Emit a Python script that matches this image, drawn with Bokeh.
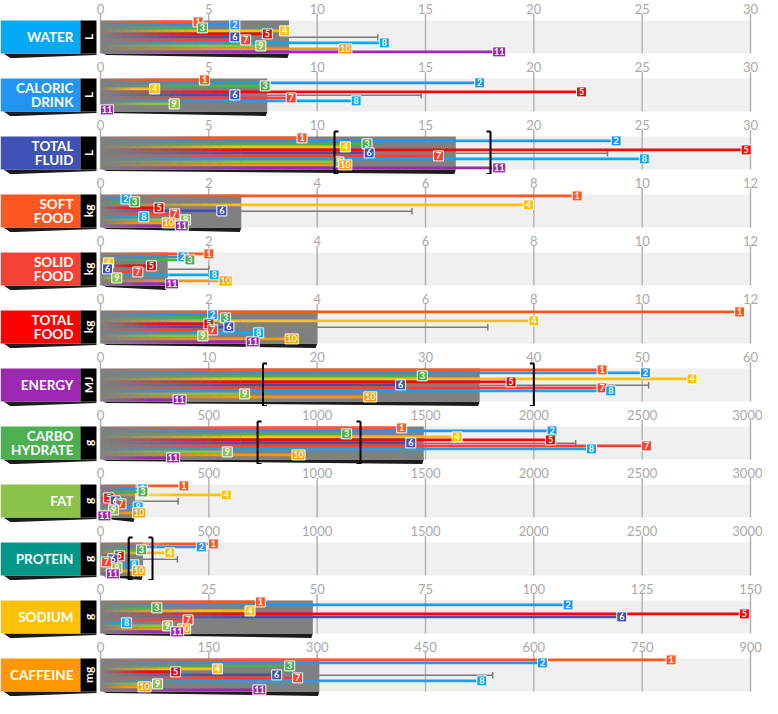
import math
from bokeh.plotting import figure
from bokeh.layouts import column
from bokeh.models import Range1d, FixedTicker, ColumnDataSource
from bokeh.core.properties import value
from bokeh.embed import file_html
from bokeh.resources import INLINE

# ---------------- data ----------------
PANEL_LABELS = [["WATER"], ["CALORIC", "DRINK"], ["TOTAL", "FLUID"], ["SOFT", "FOOD"],
                ["SOLID", "FOOD"], ["TOTAL", "FOOD"], ["ENERGY"], ["CARBO", "HYDRATE"],
                ["FAT"], ["PROTEIN"], ["SODIUM"], ["CAFFEINE"]]
UNITS = ["L", "L", "L", "kg", "kg", "kg", "MJ", "g", "g", "g", "g", "mg"]
LABEL_COLORS = ["#03A9F4", "#2196F3", "#3F51B5", "#FF5722", "#F44336", "#FF0000",
                "#9C27B0", "#4CAF50", "#8BC34A", "#009688", "#FFC107", "#FF9800"]
SERIES_NAMES = ["1", "2", "3", "4", "5", "6", "7", "8", "9", "10", "11"]
SERIES_COLORS = ["#FF5722", "#2196F3", "#4CAF50", "#FFC107", "#FF0000", "#3F51B5",
                 "#F44336", "#03A9F4", "#8BC34A", "#FF9800", "#9C27B0"]

TICKS_FLUID = [0, 5, 10, 15, 20, 25, 30]
TICKS_FOOD = [0, 2, 4, 6, 8, 10, 12]
TICKS_ENERGY = [0, 10, 20, 30, 40, 50, 60]
TICKS_MACRO = [0, 500, 1000, 1500, 2000, 2500, 3000]
TICKS_SODIUM = [0, 25, 50, 75, 100, 125, 150]
TICKS_CAFFEINE = [0, 150, 300, 450, 600, 750, 900]

WATER = [4.5, 6.2, 4.7, 8.5, 7.7, 6.2, 6.7, 13.1, 7.4, 11.3, 18.4]
CALORIC_DRINK = [4.8, 17.5, 7.6, 2.5, 22.2, 6.2, 8.8, 11.8, 3.4, None, 0.3]
TOTAL_FLUID = [9.3, 23.8, 12.3, 11.3, 29.8, 12.4, 15.6, 25.1, 11.0, 11.3, 18.4]
SOFT_FOOD = [8.8, 0.47, 0.63, 7.9, 1.08, 2.24, 1.37, 0.80, 1.57, 1.26, 1.50]
SOLID_FOOD = [2.0, 1.52, 1.65, 0.15, 0.94, 0.13, 0.69, 2.10, 0.30, 2.31, 1.32]
TOTAL_FOOD = [11.8, 2.07, 2.31, 8.0, 2.0, 2.37, 2.07, 2.92, 1.89, 3.53, 2.81]
ENERGY = [46.3, 50.3, 29.7, 54.6, 37.9, 27.7, 46.3, 47.1, 13.3, 24.9, 7.3]
CARBOHYDRATE = [1390, 2084, 1136, 1646, 2077, 1432, 2520, 2266, 585, 914, 335]
FAT = [385, 193, 196, 581, 38, 68, 94, 174, 60, 178, 18]
PROTEIN = [521, 465, 189, 320, 87, 57, 27, 154, 76, 177, 57]
SODIUM = [36.9, 107.9, 13.0, 34.5, 148.6, 120.3, 20.2, 6.0, 15.5, 19.3, 17.7]
CAFFEINE = [790, 612, 262, 162, 104, 244, 273, 528, 79, 61, 220]

AVERAGE = [8.7, 7.7, 16.4, 2.6, 1.24, 4.0, 35.0, 1492, 159, 196, 49, 303]
SD_END = [12.8, 14.8, 23.4, 5.75, 2.0, 7.15, 50.6, 2193, 358, 355, None, 543]
RANGE_LO = [None, None, 10.8, None, None, None, 15, 725, None, 130, None, None]
RANGE_HI = [None, None, 18.0, None, None, None, 40, 1200, None, 240, None, None]

PANEL_VALUES = [WATER, CALORIC_DRINK, TOTAL_FLUID, SOFT_FOOD, SOLID_FOOD, TOTAL_FOOD,
                ENERGY, CARBOHYDRATE, FAT, PROTEIN, SODIUM, CAFFEINE]
PANEL_TICKS = [TICKS_FLUID, TICKS_FLUID, TICKS_FLUID, TICKS_FOOD, TICKS_FOOD, TICKS_FOOD,
               TICKS_ENERGY, TICKS_MACRO, TICKS_MACRO, TICKS_MACRO, TICKS_SODIUM, TICKS_CAFFEINE]

# ---------------- layout constants ----------------
W = 762
FRAME_H = 45
Z_PX = 100     # pixel where value 0 sits
M_PX = 750     # pixel where the axis maximum sits
Y_LO, Y_HI = -1.7, 13.3
FONT = "Lato"

figs = []
for k in range(12):
    ticks = PANEL_TICKS[k]
    mx = ticks[-1]
    s = (M_PX - Z_PX) / mx

    def px(v, s=s):
        return (v - Z_PX) / s

    p = figure(frame_width=W, frame_height=FRAME_H,
               x_range=Range1d(px(0), px(W)), y_range=Range1d(Y_LO, Y_HI),
               output_backend="svg", toolbar_location=None,
               x_axis_location="above", y_axis_location=None,
               min_border=0, min_border_left=0, min_border_right=0,
               min_border_top=0, min_border_bottom=0,
               outline_line_color=None, background_fill_color="white",
               border_fill_color="white")
    p.grid.visible = False
    ax = p.xaxis[0]
    ax.ticker = FixedTicker(ticks=ticks)
    ax.axis_line_color = None
    ax.major_tick_line_color = None
    ax.minor_tick_line_color = None
    ax.major_tick_out = 0
    ax.major_tick_in = 0
    ax.major_label_standoff = 0
    ax.major_label_text_font = FONT
    ax.major_label_text_font_size = "13px"
    ax.major_label_text_color = "#a9a9a9"

    # band
    p.quad(left=[0], right=[mx], bottom=[0], top=[11], fill_color="#f0f0f0", line_color=None)
    # grid lines
    p.segment(x0=ticks, x1=ticks, y0=[0] * len(ticks), y1=[Y_HI] * len(ticks),
              line_color="#b3b3b3", line_width=1.5)

    # label box + shadow
    p.patch(x=[px(3), px(96), px(96), px(10)], y=[0, 0, -0.5, -1.6],
            fill_color="#1c1c1c", line_color=None)
    p.quad(left=[px(0)], right=[px(80)], bottom=[0], top=[11],
           fill_color=LABEL_COLORS[k], line_color=None)
    p.quad(left=[px(80)], right=[px(96)], bottom=[0], top=[11],
           fill_color="black", line_color=None)
    lines = PANEL_LABELS[k]
    if len(lines) == 1:
        ly = [5.5]
    else:
        ly = [5.5 + 2.2, 5.5 - 2.2]
    p.text(x=[px(73)] * len(lines), y=ly, text=lines, text_align="right",
           text_baseline="middle", text_font=value(FONT), text_font_style="bold",
           text_font_size="13.5px", text_color="white")
    p.text(x=[px(88)], y=[5.5], text=[UNITS[k]], angle=math.pi / 2, text_align="center",
           text_baseline="middle", text_font=value(FONT), text_font_style="bold",
           text_font_size="12px", text_color="white")

    # average box + shadow
    avg = AVERAGE[k]
    p.patch(x=[px(Z_PX + 2), avg, avg - 1.5 / s, px(Z_PX + 6)], y=[0, 0, -1.5, -0.5],
            fill_color="#1c1c1c", line_color=None)
    p.quad(left=[0], right=[avg], bottom=[0], top=[11], fill_color="#808080", line_color=None)

    # whisker
    sd = SD_END[k]
    if sd is not None:
        p.segment(x0=[avg, sd], x1=[sd, sd], y0=[5.4, 4.3], y1=[5.4, 6.5],
                  line_color="#7a7a7a", line_width=1.5)

    # gradient lines
    vals = PANEL_VALUES[k]
    seg = dict(x0=[], x1=[], y=[], c=[], a=[])
    n = 14
    for i, v in enumerate(vals):
        if v is None:
            continue
        y = 10.5 - i
        L = v * s
        fade = min(0.6 * L, 140) / s
        for j in range(n):
            seg["x0"].append(fade * j / n)
            seg["x1"].append(fade * (j + 1) / n)
            seg["y"].append(y)
            seg["c"].append(SERIES_COLORS[i])
            seg["a"].append((j + 0.5) / n)
        seg["x0"].append(fade)
        seg["x1"].append(v)
        seg["y"].append(y)
        seg["c"].append(SERIES_COLORS[i])
        seg["a"].append(1.0)
    src = ColumnDataSource(seg)
    p.segment(x0="x0", x1="x1", y0="y", y1="y", line_color="c", line_alpha="a",
              line_width=2.7, source=src)

    # markers
    for i, v in enumerate(vals):
        if v is None:
            continue
        y = 10.5 - i
        w = 10 if len(SERIES_NAMES[i]) == 1 else 13
        p.rect(x=[v], y=[y], width=w, height=10, width_units="screen", height_units="screen",
               fill_color=SERIES_COLORS[i], line_color="white", line_width=1)
        p.text(x=[v], y=[y], text=[SERIES_NAMES[i]], text_align="center",
               text_baseline="middle", text_font=value(FONT), text_font_style="bold",
               text_font_size="9px", text_color="white")

    # recommended range brackets
    lo, hi = RANGE_LO[k], RANGE_HI[k]
    if lo is not None:
        arm = 4 / s
        yb, yt = -1.5, 12.6
        p.segment(x0=[lo, lo, lo, hi, hi, hi], x1=[lo, lo + arm, lo + arm, hi, hi - arm, hi - arm],
                  y0=[yb, yt, yb, yb, yt, yb], y1=[yt, yt, yb, yt, yt, yb],
                  line_color="black", line_width=2)

    figs.append(p)

layout = column(*figs, spacing=0)
open("out.html", "w").write(file_html(layout, INLINE))
